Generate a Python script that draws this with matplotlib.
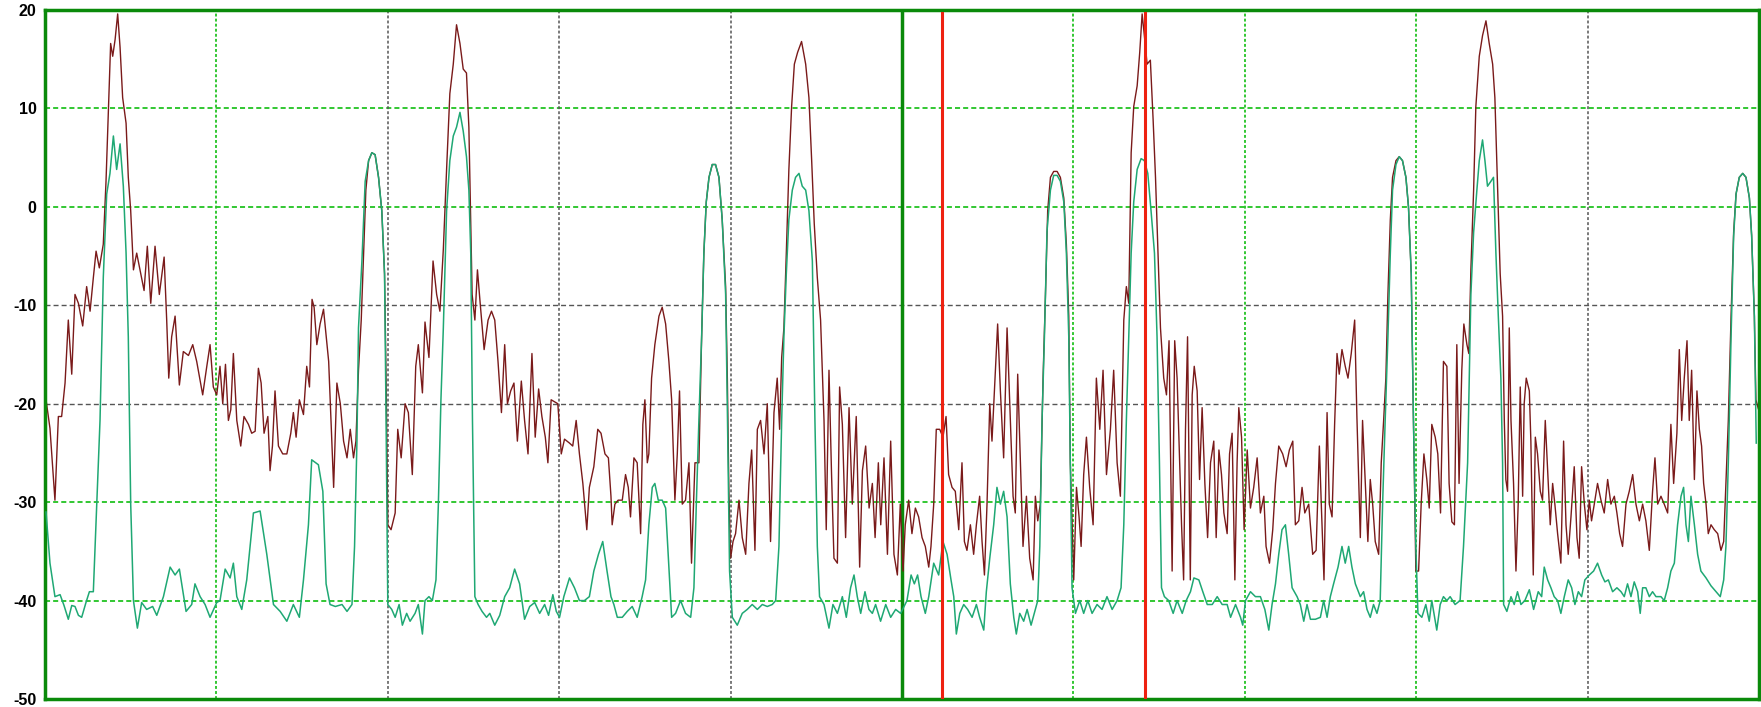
import matplotlib
matplotlib.use("Agg")
import matplotlib.pyplot as plt

# ---------------- data (x in grid divisions 0..10, y in dB) ----------------
y_ticks = [20, 10, 0, -10, -20, -30, -40, -50]
marker_positions = [5.233, 6.42]

maroon_points = [
    (0.006, -19.6), (0.029, -22.5), (0.058, -29.8), (0.078, -21.3), (0.097, -21.3), (0.117, -17.9),
    (0.136, -11.5), (0.156, -17.0), (0.175, -8.9), (0.195, -9.8), (0.220, -12.1), (0.243, -8.1),
    (0.263, -10.6), (0.282, -7.2), (0.298, -4.5), (0.317, -6.2), (0.340, -3.8), (0.356, 2.6),
    (0.370, 9.8), (0.383, 16.6), (0.395, 15.3), (0.409, 17.0), (0.424, 19.6), (0.438, 16.2),
    (0.453, 11.1), (0.473, 8.5), (0.486, 3.0), (0.500, -0.4), (0.516, -6.4), (0.535, -4.7),
    (0.554, -6.4), (0.578, -8.5), (0.597, -4.0), (0.617, -9.8), (0.642, -4.0), (0.667, -8.9),
    (0.695, -5.1), (0.710, -11.5), (0.722, -17.4), (0.739, -13.2), (0.759, -11.1), (0.784, -18.1),
    (0.807, -14.7), (0.837, -15.1), (0.862, -14.0), (0.885, -15.7), (0.920, -19.1), (0.944, -16.2),
    (0.963, -14.0), (0.982, -18.3), (1.002, -19.1), (1.021, -16.2), (1.037, -20.0), (1.053, -16.0),
    (1.070, -21.7), (1.084, -20.6), (1.099, -14.9), (1.119, -21.7), (1.142, -24.3), (1.161, -21.3),
    (1.187, -22.1), (1.206, -23.0), (1.226, -22.8), (1.245, -16.4), (1.261, -17.9), (1.278, -23.0),
    (1.300, -21.3), (1.313, -26.8), (1.327, -24.3), (1.342, -18.7), (1.362, -24.3), (1.387, -25.1),
    (1.411, -25.1), (1.434, -23.0), (1.449, -20.9), (1.465, -23.4), (1.484, -19.6), (1.508, -21.1),
    (1.527, -16.2), (1.543, -18.3), (1.558, -9.4), (1.570, -10.2), (1.586, -14.0), (1.605, -11.9),
    (1.625, -10.4), (1.655, -15.7), (1.684, -28.5), (1.703, -17.9), (1.723, -20.0), (1.742, -23.8),
    (1.762, -25.5), (1.781, -22.6), (1.800, -25.5), (1.814, -23.8), (1.829, -16.6), (1.845, -11.5),
    (1.859, -4.7), (1.872, 1.7), (1.888, 4.7), (1.907, 5.5), (1.926, 5.3), (1.946, 3.0),
    (1.965, -0.4), (1.981, -6.8), (1.990, -17.4), (2.000, -32.3), (2.019, -32.8), (2.043, -31.1),
    (2.058, -22.6), (2.078, -25.5), (2.101, -20.0), (2.120, -20.9), (2.143, -27.2), (2.163, -16.2),
    (2.178, -14.0), (2.202, -18.9), (2.217, -11.7), (2.240, -15.3), (2.264, -5.5), (2.285, -8.9),
    (2.304, -10.6), (2.324, -4.3), (2.343, 3.8), (2.362, 11.5), (2.382, 14.5), (2.401, 18.5),
    (2.421, 16.6), (2.440, 14.0), (2.459, 13.6), (2.473, 8.1), (2.484, -1.7), (2.492, -8.9),
    (2.508, -11.5), (2.523, -6.4), (2.539, -9.8), (2.562, -14.5), (2.585, -11.5), (2.605, -10.6),
    (2.624, -11.5), (2.643, -15.7), (2.663, -20.9), (2.682, -14.0), (2.698, -20.0), (2.717, -18.7),
    (2.736, -17.9), (2.756, -23.8), (2.779, -17.7), (2.798, -21.7), (2.818, -25.1), (2.841, -14.9),
    (2.860, -23.4), (2.880, -18.5), (2.899, -21.3), (2.919, -23.4), (2.934, -26.0), (2.953, -19.6),
    (2.973, -19.8), (2.992, -20.0), (3.012, -25.1), (3.031, -23.6), (3.060, -24.0), (3.079, -24.3),
    (3.099, -21.7), (3.118, -25.1), (3.138, -28.1), (3.161, -32.8), (3.176, -28.5), (3.202, -26.4),
    (3.225, -22.6), (3.244, -23.0), (3.267, -25.1), (3.287, -25.5), (3.302, -29.4), (3.309, -32.3),
    (3.325, -30.2), (3.344, -29.8), (3.368, -29.8), (3.387, -27.2), (3.403, -28.5), (3.416, -31.5),
    (3.436, -25.5), (3.455, -26.0), (3.475, -33.2), (3.488, -22.1), (3.500, -19.6), (3.514, -26.0),
    (3.523, -25.1), (3.539, -17.4), (3.558, -14.0), (3.582, -11.1), (3.601, -10.2), (3.621, -11.9),
    (3.640, -15.7), (3.656, -19.6), (3.675, -29.8), (3.689, -25.1), (3.702, -18.7), (3.718, -30.2),
    (3.737, -29.8), (3.757, -26.0), (3.772, -36.2), (3.792, -26.0), (3.815, -26.0), (3.831, -13.2),
    (3.844, -4.7), (3.858, 0.5), (3.874, 3.0), (3.893, 4.3), (3.912, 4.3), (3.932, 3.0),
    (3.951, -1.3), (3.971, -8.1), (3.981, -17.4), (3.990, -28.9), (4.000, -35.7), (4.014, -34.0),
    (4.029, -33.2), (4.049, -29.8), (4.068, -33.6), (4.088, -35.3), (4.107, -28.1), (4.123, -24.7),
    (4.142, -34.9), (4.156, -22.6), (4.175, -21.7), (4.195, -25.1), (4.214, -20.0), (4.233, -34.0),
    (4.253, -20.9), (4.272, -17.4), (4.286, -22.6), (4.298, -15.3), (4.311, -12.3), (4.325, -4.7),
    (4.340, 3.8), (4.356, 10.2), (4.372, 14.5), (4.391, 15.7), (4.414, 16.8), (4.438, 14.5),
    (4.457, 11.1), (4.473, 4.7), (4.488, -1.7), (4.506, -7.2), (4.525, -11.5), (4.545, -21.7),
    (4.558, -32.8), (4.574, -16.6), (4.589, -27.2), (4.603, -35.7), (4.623, -36.2), (4.636, -18.3),
    (4.652, -22.1), (4.671, -33.6), (4.691, -20.4), (4.710, -30.2), (4.733, -21.3), (4.753, -36.6),
    (4.769, -26.8), (4.788, -24.3), (4.808, -30.6), (4.827, -28.1), (4.843, -33.6), (4.862, -26.0),
    (4.876, -32.3), (4.895, -25.5), (4.915, -35.3), (4.934, -23.8), (4.953, -35.3), (4.973, -37.4),
    (4.990, -30.2), (5.006, -37.0), (5.019, -32.3), (5.039, -29.8), (5.058, -33.2), (5.078, -30.6),
    (5.097, -31.5), (5.117, -33.6), (5.136, -34.5), (5.156, -36.6), (5.169, -34.5), (5.185, -30.2),
    (5.200, -22.6), (5.220, -22.6), (5.239, -23.4), (5.257, -21.3), (5.272, -27.2), (5.292, -28.5),
    (5.311, -28.9), (5.331, -32.8), (5.350, -26.0), (5.364, -34.0), (5.379, -34.9), (5.399, -32.3),
    (5.418, -35.3), (5.434, -32.3), (5.453, -29.4), (5.467, -34.0), (5.481, -37.4), (5.496, -30.2),
    (5.512, -20.0), (5.525, -23.8), (5.539, -18.7), (5.558, -11.9), (5.574, -18.7), (5.593, -25.5),
    (5.613, -12.3), (5.628, -19.6), (5.648, -29.4), (5.661, -31.1), (5.675, -17.0), (5.691, -26.0),
    (5.706, -34.5), (5.726, -29.4), (5.745, -35.7), (5.765, -37.9), (5.778, -29.4), (5.792, -31.9),
    (5.807, -30.2), (5.823, -17.4), (5.837, -8.9), (5.850, -0.4), (5.866, 3.0), (5.885, 3.6),
    (5.905, 3.6), (5.924, 3.0), (5.944, 0.9), (5.959, -3.8), (5.973, -11.1), (5.982, -26.0),
    (6.002, -37.9), (6.018, -28.5), (6.033, -31.5), (6.045, -34.5), (6.060, -27.2), (6.076, -23.4),
    (6.095, -28.5), (6.115, -32.3), (6.134, -17.4), (6.154, -22.6), (6.173, -16.6), (6.193, -27.2),
    (6.216, -22.6), (6.235, -16.6), (6.255, -26.0), (6.274, -29.4), (6.294, -11.5), (6.309, -8.1),
    (6.323, -9.8), (6.337, 5.5), (6.352, 10.2), (6.372, 12.3), (6.387, 15.7), (6.401, 19.6),
    (6.414, 17.4), (6.430, 14.5), (6.449, 14.9), (6.465, 8.9), (6.479, 3.0), (6.492, -3.8),
    (6.508, -12.3), (6.527, -17.4), (6.543, -19.1), (6.558, -13.6), (6.576, -37.0), (6.591, -13.6),
    (6.605, -17.4), (6.631, -32.3), (6.643, -37.9), (6.654, -22.6), (6.666, -13.2), (6.682, -37.9),
    (6.693, -19.1), (6.705, -16.2), (6.722, -18.7), (6.736, -27.7), (6.751, -20.4), (6.767, -28.1),
    (6.783, -33.6), (6.800, -26.0), (6.819, -23.8), (6.833, -33.6), (6.849, -24.7), (6.864, -27.2),
    (6.878, -31.1), (6.897, -33.2), (6.911, -25.1), (6.926, -23.0), (6.942, -37.9), (6.955, -26.0),
    (6.965, -20.4), (6.981, -23.4), (6.996, -32.8), (7.014, -24.7), (7.033, -30.6), (7.052, -28.5),
    (7.072, -25.5), (7.091, -31.1), (7.111, -29.4), (7.124, -34.5), (7.144, -36.2), (7.163, -32.8),
    (7.179, -28.1), (7.198, -24.3), (7.221, -25.1), (7.241, -26.4), (7.260, -24.7), (7.280, -23.8),
    (7.295, -32.3), (7.315, -31.9), (7.334, -28.5), (7.350, -31.1), (7.373, -30.2), (7.396, -35.3),
    (7.416, -34.9), (7.435, -24.3), (7.447, -30.6), (7.462, -37.9), (7.480, -20.9), (7.493, -30.2),
    (7.509, -31.5), (7.524, -22.1), (7.538, -14.9), (7.551, -17.0), (7.567, -14.5), (7.586, -16.2),
    (7.602, -17.4), (7.621, -14.9), (7.641, -11.5), (7.654, -21.3), (7.674, -33.6), (7.687, -21.7),
    (7.703, -28.1), (7.718, -34.0), (7.732, -27.7), (7.746, -30.2), (7.761, -34.0), (7.781, -35.3),
    (7.796, -26.0), (7.810, -21.7), (7.823, -17.4), (7.835, -8.9), (7.849, -1.3), (7.862, 3.0),
    (7.882, 4.7), (7.901, 5.1), (7.920, 4.7), (7.940, 3.0), (7.955, 0.0), (7.971, -6.8),
    (7.984, -21.7), (7.998, -37.0), (8.014, -37.0), (8.029, -30.2), (8.045, -25.1), (8.062, -27.7),
    (8.076, -30.6), (8.091, -22.1), (8.111, -23.4), (8.126, -25.1), (8.142, -31.1), (8.159, -15.7),
    (8.179, -16.2), (8.192, -28.1), (8.208, -32.0), (8.223, -32.3), (8.237, -14.0), (8.250, -28.1),
    (8.266, -16.6), (8.278, -11.9), (8.296, -14.0), (8.307, -14.9), (8.319, -6.4), (8.335, 1.7),
    (8.348, 10.2), (8.368, 15.3), (8.387, 17.4), (8.407, 18.9), (8.426, 16.6), (8.446, 14.5),
    (8.459, 11.1), (8.475, 1.7), (8.490, -6.8), (8.504, -11.1), (8.514, -21.7), (8.523, -27.7),
    (8.533, -28.9), (8.543, -12.3), (8.553, -21.7), (8.568, -28.1), (8.582, -37.0), (8.595, -30.2),
    (8.607, -18.3), (8.621, -29.4), (8.630, -20.0), (8.642, -17.4), (8.660, -18.7), (8.669, -23.8),
    (8.683, -37.4), (8.695, -23.4), (8.708, -25.1), (8.724, -28.9), (8.737, -29.8), (8.753, -21.7),
    (8.767, -26.8), (8.782, -32.3), (8.796, -28.1), (8.809, -30.2), (8.825, -33.2), (8.844, -36.2),
    (8.860, -23.8), (8.874, -32.3), (8.887, -35.3), (8.903, -31.5), (8.922, -26.4), (8.938, -33.6),
    (8.951, -35.7), (8.965, -26.4), (8.981, -30.2), (8.996, -32.8), (9.010, -29.8), (9.023, -31.9),
    (9.039, -30.2), (9.058, -28.1), (9.078, -29.8), (9.097, -31.1), (9.117, -27.7), (9.136, -30.2),
    (9.156, -29.4), (9.171, -31.1), (9.187, -33.2), (9.204, -34.5), (9.224, -30.2), (9.243, -28.9),
    (9.263, -27.2), (9.282, -30.2), (9.302, -31.9), (9.321, -30.2), (9.340, -31.9), (9.360, -34.9),
    (9.379, -28.9), (9.393, -25.5), (9.409, -30.2), (9.428, -29.4), (9.447, -30.2), (9.467, -31.1),
    (9.486, -22.1), (9.502, -28.1), (9.521, -23.0), (9.535, -14.5), (9.549, -21.7), (9.564, -17.4),
    (9.580, -13.6), (9.593, -21.7), (9.607, -16.6), (9.623, -27.7), (9.638, -18.7), (9.652, -22.6),
    (9.665, -24.3), (9.677, -28.1), (9.691, -30.2), (9.704, -33.2), (9.720, -32.3), (9.739, -32.8),
    (9.759, -33.2), (9.778, -34.9), (9.794, -34.0), (9.807, -28.1), (9.821, -21.7), (9.837, -11.1),
    (9.852, -2.6), (9.866, 1.3), (9.885, 3.0), (9.905, 3.4), (9.924, 3.0), (9.944, 0.9),
    (9.957, -2.9), (9.973, -11.1), (9.982, -19.6), (9.996, -20.5),
]

green_points = [
    (0.006, -31.0), (0.029, -36.2), (0.058, -39.6), (0.088, -39.4), (0.111, -40.5), (0.136, -41.9),
    (0.156, -40.5), (0.175, -40.6), (0.195, -41.5), (0.214, -41.7), (0.239, -40.2), (0.259, -39.1),
    (0.282, -39.1), (0.302, -30.2), (0.321, -21.7), (0.340, -7.2), (0.360, 1.3), (0.379, 3.4),
    (0.399, 7.2), (0.418, 3.8), (0.438, 6.4), (0.457, 2.1), (0.473, -4.7), (0.486, -13.2),
    (0.500, -30.2), (0.516, -40.0), (0.539, -42.8), (0.564, -40.2), (0.593, -40.9), (0.628, -40.6),
    (0.652, -41.5), (0.691, -39.6), (0.730, -36.6), (0.759, -37.4), (0.784, -36.8), (0.823, -41.1),
    (0.856, -40.4), (0.875, -38.3), (0.905, -39.6), (0.934, -40.4), (0.963, -41.7), (1.002, -40.2),
    (1.021, -40.0), (1.051, -36.8), (1.080, -37.7), (1.099, -36.2), (1.119, -39.6), (1.148, -40.9),
    (1.177, -37.9), (1.216, -31.1), (1.255, -30.9), (1.294, -35.3), (1.333, -40.4), (1.372, -41.1),
    (1.411, -42.1), (1.449, -40.4), (1.484, -41.7), (1.508, -37.9), (1.537, -32.3), (1.556, -25.7),
    (1.595, -26.2), (1.621, -28.9), (1.640, -38.3), (1.663, -40.4), (1.694, -40.6), (1.733, -40.4),
    (1.762, -41.1), (1.791, -40.4), (1.806, -34.5), (1.820, -23.8), (1.829, -12.3), (1.849, -5.5),
    (1.868, 2.6), (1.888, 4.7), (1.907, 5.5), (1.926, 5.3), (1.946, 3.0), (1.965, -0.4),
    (1.981, -6.8), (1.990, -21.7), (2.000, -40.4), (2.023, -40.9), (2.043, -41.7), (2.066, -40.4),
    (2.085, -42.5), (2.110, -41.3), (2.130, -42.1), (2.159, -41.3), (2.178, -40.4), (2.202, -43.4),
    (2.217, -40.0), (2.240, -39.6), (2.260, -40.0), (2.281, -37.9), (2.295, -30.2), (2.310, -19.6),
    (2.324, -12.3), (2.343, -0.4), (2.362, 4.7), (2.382, 7.2), (2.401, 8.1), (2.421, 9.6),
    (2.440, 7.7), (2.459, 5.1), (2.473, 1.7), (2.484, -4.7), (2.494, -21.7), (2.508, -39.6),
    (2.527, -40.4), (2.550, -41.1), (2.576, -41.7), (2.595, -41.3), (2.624, -42.5), (2.653, -41.5),
    (2.682, -39.6), (2.711, -38.7), (2.740, -36.8), (2.769, -38.3), (2.798, -41.9), (2.828, -40.6),
    (2.857, -40.2), (2.886, -41.3), (2.915, -40.4), (2.938, -41.5), (2.963, -39.4), (2.983, -41.1),
    (3.002, -41.7), (3.027, -39.6), (3.060, -37.7), (3.089, -38.7), (3.118, -40.0), (3.147, -40.0),
    (3.176, -39.6), (3.202, -37.0), (3.229, -35.3), (3.254, -34.0), (3.279, -37.0), (3.302, -39.6),
    (3.319, -40.4), (3.339, -41.7), (3.368, -41.7), (3.397, -41.1), (3.426, -40.6), (3.455, -41.7),
    (3.484, -39.6), (3.504, -37.9), (3.523, -32.3), (3.543, -28.5), (3.558, -28.1), (3.578, -29.8),
    (3.601, -29.8), (3.621, -30.6), (3.636, -35.3), (3.656, -41.7), (3.679, -41.3), (3.708, -40.0),
    (3.737, -41.3), (3.767, -41.7), (3.786, -38.7), (3.800, -30.2), (3.815, -21.7), (3.831, -13.2),
    (3.844, -4.7), (3.858, 0.5), (3.874, 3.0), (3.893, 4.3), (3.912, 4.3), (3.932, 3.0),
    (3.951, -1.3), (3.971, -8.9), (3.982, -21.7), (3.994, -37.0), (4.010, -41.7), (4.039, -42.5),
    (4.068, -41.3), (4.097, -40.9), (4.126, -40.4), (4.156, -40.9), (4.185, -40.4), (4.214, -40.6),
    (4.243, -40.4), (4.263, -40.0), (4.282, -34.5), (4.298, -21.7), (4.311, -13.2), (4.325, -6.8),
    (4.340, -1.3), (4.360, 1.7), (4.379, 3.0), (4.399, 3.4), (4.418, 2.1), (4.438, 1.7),
    (4.457, -0.4), (4.477, -5.5), (4.492, -21.7), (4.506, -34.5), (4.519, -39.6), (4.545, -40.4),
    (4.574, -42.8), (4.597, -40.4), (4.623, -41.3), (4.652, -39.6), (4.675, -41.7), (4.700, -38.7),
    (4.720, -37.4), (4.739, -39.6), (4.759, -41.3), (4.784, -39.1), (4.807, -40.9), (4.827, -41.3),
    (4.846, -40.4), (4.875, -42.1), (4.905, -40.4), (4.934, -41.7), (4.963, -40.9), (4.992, -41.3),
    (5.029, -40.0), (5.053, -37.4), (5.072, -38.3), (5.091, -37.4), (5.111, -39.6), (5.136, -41.3),
    (5.156, -39.6), (5.185, -36.2), (5.214, -37.4), (5.239, -34.0), (5.263, -35.3), (5.286, -37.9),
    (5.302, -39.6), (5.317, -43.4), (5.337, -41.3), (5.360, -40.4), (5.383, -40.9), (5.409, -41.7),
    (5.434, -40.4), (5.453, -41.7), (5.477, -43.0), (5.492, -39.1), (5.512, -35.7), (5.535, -32.3),
    (5.554, -28.5), (5.574, -30.2), (5.593, -28.9), (5.613, -31.5), (5.632, -38.3), (5.652, -41.7),
    (5.667, -43.4), (5.687, -41.3), (5.710, -42.1), (5.730, -40.9), (5.753, -42.5), (5.772, -41.3),
    (5.792, -40.0), (5.804, -34.5), (5.817, -21.7), (5.831, -13.2), (5.846, -2.5), (5.866, 1.7),
    (5.885, 3.2), (5.905, 3.2), (5.924, 2.6), (5.944, 0.5), (5.959, -4.7), (5.973, -13.2),
    (5.982, -26.0), (5.992, -38.7), (6.012, -41.3), (6.037, -40.0), (6.060, -41.3), (6.084, -40.0),
    (6.109, -41.3), (6.138, -40.4), (6.167, -40.9), (6.196, -39.6), (6.226, -40.9), (6.255, -40.0),
    (6.278, -38.7), (6.294, -32.3), (6.309, -21.7), (6.323, -13.2), (6.337, -4.7), (6.352, 0.5),
    (6.372, 3.8), (6.395, 4.9), (6.414, 4.7), (6.434, 3.4), (6.453, -0.4), (6.473, -4.7),
    (6.488, -13.2), (6.502, -26.0), (6.514, -38.7), (6.531, -39.6), (6.556, -40.0), (6.582, -41.3),
    (6.605, -40.0), (6.635, -41.3), (6.658, -40.0), (6.683, -39.1), (6.703, -37.7), (6.732, -37.9),
    (6.755, -39.1), (6.781, -40.4), (6.810, -40.4), (6.839, -39.6), (6.868, -40.4), (6.897, -40.4),
    (6.917, -41.7), (6.946, -40.4), (6.975, -41.7), (6.988, -42.5), (7.004, -40.0), (7.033, -39.1),
    (7.062, -39.6), (7.091, -39.6), (7.117, -40.9), (7.140, -43.0), (7.159, -40.4), (7.179, -38.3),
    (7.198, -35.3), (7.217, -32.8), (7.237, -32.3), (7.256, -35.3), (7.276, -38.7), (7.305, -39.6),
    (7.324, -40.4), (7.344, -42.1), (7.363, -40.4), (7.383, -41.9), (7.412, -41.9), (7.441, -41.7),
    (7.460, -40.0), (7.480, -41.7), (7.499, -39.6), (7.518, -38.3), (7.544, -36.6), (7.567, -34.5),
    (7.586, -36.2), (7.606, -34.5), (7.625, -36.6), (7.645, -38.3), (7.674, -39.6), (7.693, -39.1),
    (7.713, -40.9), (7.732, -41.7), (7.751, -40.4), (7.771, -41.3), (7.790, -40.0), (7.804, -30.2),
    (7.819, -21.7), (7.835, -13.2), (7.849, -4.7), (7.862, 1.7), (7.882, 4.3), (7.901, 5.1),
    (7.920, 4.7), (7.940, 3.0), (7.955, 0.0), (7.971, -6.8), (7.984, -21.7), (7.998, -34.5),
    (8.010, -41.3), (8.033, -41.7), (8.056, -40.4), (8.076, -42.1), (8.091, -40.0), (8.120, -43.0),
    (8.140, -40.4), (8.159, -39.6), (8.179, -40.0), (8.198, -39.6), (8.227, -40.4), (8.256, -40.0),
    (8.276, -34.5), (8.300, -26.0), (8.319, -8.9), (8.335, -2.6), (8.354, 1.7), (8.368, 4.7),
    (8.387, 6.8), (8.401, 4.7), (8.416, 2.1), (8.436, 2.6), (8.451, 3.0), (8.465, -4.7),
    (8.479, -11.1), (8.494, -17.4), (8.504, -26.0), (8.510, -40.4), (8.529, -41.1), (8.553, -39.6),
    (8.572, -40.4), (8.591, -39.1), (8.611, -40.4), (8.634, -40.0), (8.660, -38.9), (8.685, -40.9),
    (8.712, -39.1), (8.732, -39.6), (8.747, -36.6), (8.767, -37.9), (8.786, -38.7), (8.805, -39.6),
    (8.825, -40.0), (8.844, -41.3), (8.864, -39.6), (8.887, -37.9), (8.907, -38.7), (8.926, -40.4),
    (8.946, -39.1), (8.965, -39.6), (8.984, -37.9), (9.010, -37.4), (9.035, -37.0), (9.058, -36.2),
    (9.082, -37.4), (9.101, -38.1), (9.121, -37.9), (9.146, -39.1), (9.171, -38.7), (9.195, -39.1),
    (9.214, -39.6), (9.233, -38.3), (9.253, -39.6), (9.272, -38.1), (9.292, -39.1), (9.307, -41.3),
    (9.321, -38.7), (9.340, -38.7), (9.360, -39.6), (9.379, -39.1), (9.399, -39.6), (9.428, -39.6),
    (9.447, -40.0), (9.467, -38.7), (9.486, -37.0), (9.506, -36.2), (9.525, -32.3), (9.545, -29.4),
    (9.560, -28.5), (9.574, -32.3), (9.588, -34.0), (9.603, -29.4), (9.623, -32.3), (9.642, -35.3),
    (9.661, -37.0), (9.691, -37.7), (9.720, -38.5), (9.749, -39.1), (9.774, -39.6), (9.794, -37.9),
    (9.807, -34.5), (9.821, -26.0), (9.837, -13.2), (9.852, -3.0), (9.866, 1.3), (9.885, 3.0),
    (9.905, 3.4), (9.924, 3.0), (9.944, 0.9), (9.957, -2.9), (9.973, -11.1), (9.984, -24.0),
]

# ---------------- styling ----------------
W, H, DPI = 1761, 707, 100
FRAME_GREEN = "#0a8a0a"
GRID_GREEN = "#22c322"
GRID_GRAY = "#555555"
MAROON = "#7a1a1a"
TEAL = "#1fa874"
RED = "#ee2211"

fig = plt.figure(figsize=(W / DPI, H / DPI), dpi=DPI, facecolor="white")
ax = fig.add_axes([45 / W, 8 / H, 1714 / W, 689 / H])
ax.set_facecolor("white")
ax.set_xlim(0, 10)
ax.set_ylim(-50, 20)

# horizontal grid lines
for v in [10, 0, -30, -40]:
    ax.axhline(v, color=GRID_GREEN, lw=1.3, ls=(0, (2.8, 1.7)), zorder=1)
for v in [-10, -20]:
    ax.axhline(v, color=GRID_GRAY, lw=1.0, ls=(0, (3.6, 2.2)), zorder=1)
# vertical grid lines
for u, c in [(1, GRID_GREEN), (2, GRID_GRAY), (3, GRID_GRAY), (4, GRID_GRAY),
             (6, GRID_GREEN), (7, GRID_GREEN), (8, GRID_GREEN), (9, GRID_GRAY)]:
    if c == GRID_GREEN:
        ax.axvline(u, color=c, lw=1.3, ls=(0, (1.6, 1.2)), zorder=1)
    else:
        ax.axvline(u, color=c, lw=1.1, ls=(0, (1.9, 1.4)), zorder=1)
ax.axvline(5, color=FRAME_GREEN, lw=2.5, zorder=1)

gx, gy = zip(*green_points)
mx, my = zip(*maroon_points)
ax.plot(gx, gy, color=TEAL, lw=1.1, zorder=3)
ax.plot(mx, my, color=MAROON, lw=1.0, zorder=2)

for m in marker_positions:
    ax.axvline(m, ymin=0, ymax=0.995, color=RED, lw=2.2, zorder=4)

ax.set_xticks([])
ax.set_yticks(y_ticks)
ax.set_yticklabels([str(t) for t in y_ticks])
ax.tick_params(axis="y", length=0, pad=6)
for lab in ax.get_yticklabels():
    lab.set_fontfamily("Liberation Sans")
    lab.set_fontweight("bold")
    lab.set_fontsize(11.5)
for s in ax.spines.values():
    s.set_color(FRAME_GREEN)
    s.set_linewidth(2.5)

fig.savefig("out.png", dpi=DPI, facecolor="white")
